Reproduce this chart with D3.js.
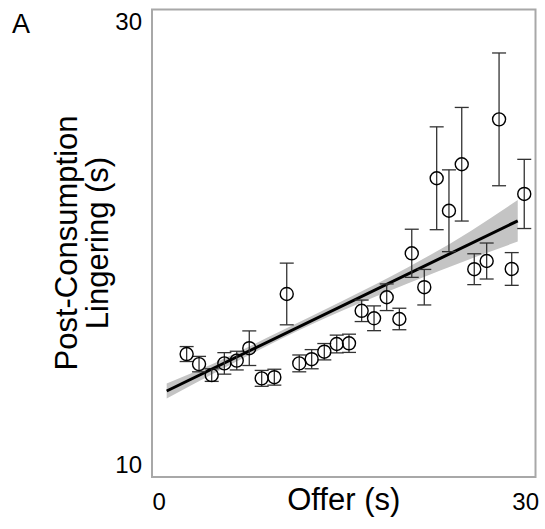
<!DOCTYPE html>
<html>
<head>
<script src="https://d3js.org/d3.v7.min.js"></script>
<style>
  body { margin: 0; background: #fff; }
  text { font-family: Arial, "Liberation Sans", sans-serif; fill: #000; }
</style>
</head>
<body>
<div id="chart"></div>
<script>
// mean offer per bin, mean lingering and its error
let offer = [2.71, 3.68, 4.67, 5.66, 6.63, 7.61, 8.58, 9.57, 10.54, 11.52, 12.49, 13.48, 14.45, 15.41,
             16.40, 17.37, 18.36, 19.35, 20.32, 21.30, 22.27, 23.23, 24.23, 25.21, 26.18, 27.15, 28.14, 29.12];
let linger = [15.26, 14.83, 14.36, 14.86, 14.98, 15.51, 14.22, 14.27, 17.83, 14.86, 15.04, 15.36, 15.69, 15.72,
              17.11, 16.79, 17.69, 16.76, 19.57, 18.12, 22.78, 21.39, 23.38, 18.89, 19.24, 25.30, 18.90, 22.11];
let sem = [0.32, 0.33, 0.27, 0.46, 0.40, 0.74, 0.34, 0.34, 1.32, 0.36, 0.41, 0.35, 0.38, 0.39,
           0.46, 0.53, 0.57, 0.46, 1.03, 0.76, 2.20, 1.75, 2.43, 0.66, 0.77, 2.84, 0.70, 1.48];

// fit line and its confidence band
let fitX = [1.15, 28.61];
let fitY = [13.68, 20.96];
let bandX  = [1.15, 5, 10, 15, 20, 25, 28.61];
let bandLo = [13.36, 14.48, 15.88, 17.14, 18.28, 19.35, 20.07];
let bandHi = [14.00, 14.90, 16.22, 17.56, 18.96, 20.55, 21.85];

let xTicks = [0, 30];
let yTicks = [10, 30];

let W = 545, H = 529;
let box = {left: 152, right: 535.5, top: 9.5, bottom: 477};

let x = d3.scaleLinear().domain([0, 30]).range([box.left, box.right]);
let y = d3.scaleLinear().domain([10, 30]).range([box.bottom, box.top]);

let svg = d3.select("#chart").append("svg")
  .attr("width", W)
  .attr("height", H);

// band
let area = d3.area()
  .x(function(d, i) { return x(bandX[i]); })
  .y0(function(d, i) { return y(bandLo[i]); })
  .y1(function(d, i) { return y(bandHi[i]); })
  .curve(d3.curveMonotoneX);

svg.append("path")
  .datum(bandX)
  .attr("d", area)
  .attr("fill", "#c4c4c4");

svg.append("line")
  .attr("x1", x(fitX[0])).attr("y1", y(fitY[0]))
  .attr("x2", x(fitX[1])).attr("y2", y(fitY[1]))
  .attr("stroke", "#000")
  .attr("stroke-width", 3);

// error bars
let pts = offer.map(function(d, i) { return {x: d, y: linger[i], e: sem[i]}; });
let cap = 7;

let eb = svg.append("g")
  .attr("stroke", "#333")
  .attr("stroke-width", 1.3)
  .selectAll("g")
  .data(pts)
  .enter()
  .append("g");

eb.append("line")
  .attr("x1", d => x(d.x)).attr("x2", d => x(d.x))
  .attr("y1", d => y(d.y - d.e)).attr("y2", d => y(d.y + d.e));
eb.append("line")
  .attr("x1", d => x(d.x) - cap).attr("x2", d => x(d.x) + cap)
  .attr("y1", d => y(d.y + d.e)).attr("y2", d => y(d.y + d.e));
eb.append("line")
  .attr("x1", d => x(d.x) - cap).attr("x2", d => x(d.x) + cap)
  .attr("y1", d => y(d.y - d.e)).attr("y2", d => y(d.y - d.e));

svg.append("g")
  .selectAll("circle")
  .data(pts)
  .enter()
  .append("circle")
  .attr("cx", d => x(d.x))
  .attr("cy", d => y(d.y))
  .attr("r", 6.5)
  .attr("fill", "none")
  .attr("stroke", "#000")
  .attr("stroke-width", 1.4);

// frame
svg.append("rect")
  .attr("x", box.left)
  .attr("y", box.top)
  .attr("width", box.right - box.left)
  .attr("height", box.bottom - box.top)
  .attr("fill", "none")
  .attr("stroke", "#a8a8a8")
  .attr("stroke-width", 2);

// axes, labels only
let yAxis = svg.append("g")
  .attr("transform", "translate(" + box.left + ",0)")
  .call(d3.axisLeft(y).tickValues(yTicks).tickSize(0).tickPadding(10).tickFormat(d3.format("d")));
yAxis.select(".domain").remove();
yAxis.selectAll("text")
  .style("font-size", "24px")
  .attr("dy", d => d === 30 ? "0.85em" : "-0.2em");

let xAxis = svg.append("g")
  .attr("transform", "translate(0," + box.bottom + ")")
  .call(d3.axisBottom(x).tickValues(xTicks).tickSize(0).tickPadding(16).tickFormat(d3.format("d")));
xAxis.select(".domain").remove();
xAxis.selectAll("text")
  .style("font-size", "24px")
  .attr("text-anchor", d => d === 0 ? "start" : "end")
  .attr("dx", d => d === 0 ? 0 : 3);

svg.append("text")
  .attr("x", (box.left + box.right) / 2)
  .attr("y", 510)
  .attr("text-anchor", "middle")
  .style("font-size", "31px")
  .text("Offer (s)");

let yt = svg.append("text")
  .attr("transform", "translate(77,243) rotate(-90)")
  .attr("text-anchor", "middle")
  .style("font-size", "31px");
yt.append("tspan").attr("x", 0).attr("y", 0).text("Post-Consumption");
yt.append("tspan").attr("x", 0).attr("y", 31).text("Lingering (s)");

svg.append("text")
  .attr("x", 12)
  .attr("y", 33)
  .style("font-size", "27px")
  .text("A");
</script>
</body>
</html>
